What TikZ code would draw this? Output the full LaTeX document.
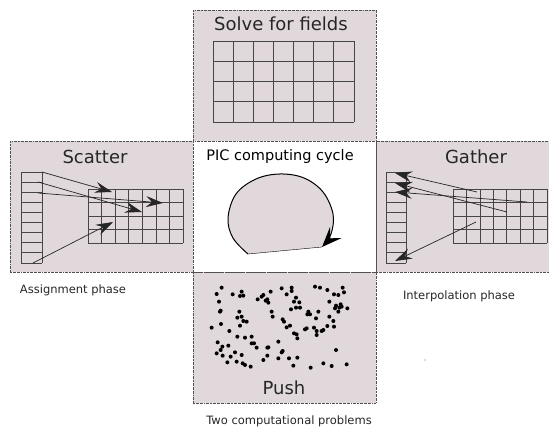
\documentclass[tikz,border=0pt]{standalone}
\usepackage{fontspec}
\setmainfont{DejaVu Sans}
\usetikzlibrary{arrows.meta}
\definecolor{panel}{RGB}{224,216,218}
\definecolor{edgec}{RGB}{80,80,80}
\definecolor{gridc}{RGB}{70,70,70}
\begin{document}
\begin{tikzpicture}[x=1pt,y=-1pt,
  panelbox/.style={draw=edgec, line width=0.6pt, dash pattern=on 2pt off 0.8pt on 0.6pt off 0.8pt, fill=panel, inner sep=0pt, outer sep=0pt},
  bigtitle/.style={font=\fontsize{18}{21}\selectfont, text=black!85, inner sep=0pt},
  midtitle/.style={font=\fontsize{14.5}{17}\selectfont, inner sep=0pt},
  caption/.style={font=\fontsize{11.5}{13}\selectfont, text=black!85, inner sep=0pt},
  bigline/.style={draw=gridc, line width=0.9pt},
  smallline/.style={draw=gridc, line width=0.6pt},
  arr/.style={draw=black!85, line width=0.7pt, -{Stealth[length=17pt,width=11pt,inset=6pt]}},
  dot/.style={fill=black}
]
\useasboundingbox (0,0) rectangle (549,430);

% panels
\node[panelbox, anchor=north west, minimum width=183pt, minimum height=131pt] (solve) at (193,10) {};
\node[panelbox, anchor=north west, minimum width=183pt, minimum height=131pt] (scatter) at (10,141) {};
\node[panelbox, anchor=north west, minimum width=178pt, minimum height=131pt] (gather) at (376,141) {};
\node[panelbox, anchor=north west, minimum width=183pt, minimum height=131pt] (push) at (193,272) {};
\node[panelbox, fill=white, anchor=north west, minimum width=183pt, minimum height=131pt] (center) at (193,141) {};

% titles
\node[bigtitle] (tsolve) at (281,24) {Solve for fields};
\node[bigtitle] (tscatter) at (95,157) {Scatter};
\node[bigtitle] (tgather) at (476,157) {Gather};
\node[bigtitle] (tpush) at (284,388) {Push};
\node[midtitle] (tpic) at (280,157) {PIC computing cycle};
\node[caption] (cassign) at (73,290) {Assignment phase};
\node[caption] (cinterp) at (459,296) {Interpolation phase};
\node[caption] (ctwo) at (289,421) {Two computational problems};

% solve grid
\foreach \i in {0,...,7} \draw[bigline] (213+\i*20.14,41) -- (213+\i*20.14,122);
\foreach \j in {0,...,4} \draw[bigline] (213,41+\j*20.25) -- (354,41+\j*20.25);

% scatter strip and grid
\foreach \j in {0,...,9} \draw[smallline] (21,172+\j*10.1) -- (42,172+\j*10.1);
\draw[smallline] (21,172) -- (21,263) (42,172) -- (42,263);
\foreach \i in {0,...,7} \draw[smallline] (88+\i*13.57,189) -- (88+\i*13.57,243);
\foreach \j in {0,...,4} \draw[smallline] (88,189+\j*13.5) -- (183,189+\j*13.5);

% gather strip and grid
\foreach \j in {0,...,9} \draw[smallline] (386,172+\j*10.1) -- (406,172+\j*10.1);
\draw[smallline] (386,172) -- (386,263) (406,172) -- (406,263);
\foreach \i in {0,...,7} \draw[smallline] (453+\i*13.43,189) -- (453+\i*13.43,243);
\foreach \j in {0,...,4} \draw[smallline] (453,189+\j*13.5) -- (547,189+\j*13.5);

% scatter arrows
\coordinate (s1) at (42,172); \coordinate (g1) at (112,192);
\coordinate (s2) at (38,182); \coordinate (g2) at (142,212);
\coordinate (s3) at (38,193); \coordinate (g3) at (163,203);
\coordinate (s4) at (33,263); \coordinate (g4) at (113,222);
\draw[arr] (s1) -- (g1);
\draw[arr] (s2) -- (g2);
\draw[arr] (s3) -- (g3);
\draw[arr] (s4) -- (g4);

% gather arrows
\coordinate (h1) at (477,192); \coordinate (t1) at (395,173);
\coordinate (h2) at (507,212); \coordinate (t2) at (395,183);
\coordinate (h3) at (527,202); \coordinate (t3) at (395,192);
\coordinate (h4) at (476,222); \coordinate (t4) at (395,261);
\draw[arr] (h1) -- (t1);
\draw[arr] (h2) -- (t2);
\draw[arr] (h3) -- (t3);
\draw[arr] (h4) -- (t4);

% cycle
\fill[panel] plot[smooth, tension=0.6] coordinates {(248,254) (233,238) (228,218) (236,194) (256,179) (280,174) (304,178) (323,192) (333,214) (331,234) (322,247)} -- cycle;
\draw[line width=1pt, -{Stealth[length=20pt,width=16pt,inset=8pt]}] plot[smooth, tension=0.6] coordinates {(248,254) (233,238) (228,218) (236,194) (256,179) (280,174) (304,178) (323,192) (333,214) (331,234) (322,247)};
\draw[line width=0.4pt] (322,247) -- (248,254);

% push dots
\foreach \a/\b in {95/68,80/87,128/88,155/80,150/93,160/92,87/110,92/137,90/140,65/188,93/177,148/140,155/155,142/158,170/170,150/182,160/168,118/198,83/232,97/245,115/242,80/265,92/255,98/272,122/275,135/262,140/290,112/292,155/270,158/295,165/300,182/305,165/218,185/215,185/235,192/235,200/248,142/215,220/285,232/272,232/248,203/103,215/95,220/90,227/107,232/103,242/80,235/113,245/140,248/155,275/70,305/68,305/78,290/88,318/98,312/110,328/112,318/128,303/133,330/128,278/163,282/170,290/187,300/182,265/230,278/258,275/262,265/280,297/280,322/278,312/205,322/220,345/193,350/190,355/140,360/148,352/148,375/65,390/68,412/75,385/140,378/160,372/188,380/198,380/210,395/198,400/195,418/110,432/88,445/90,458/68,462/82,452/118,438/122,448/128,455/125,435/130,472/130,418/155,430/168,432/185,412/183,438/255,400/295,425/303,470/298,310/302,362/308,320/208,235/247,445/140}
  \fill[dot] (190+\a/3,265+\b/3) circle (2pt);
\fill[black!60] (425,360) circle (0.7pt);
\end{tikzpicture}
\end{document}
